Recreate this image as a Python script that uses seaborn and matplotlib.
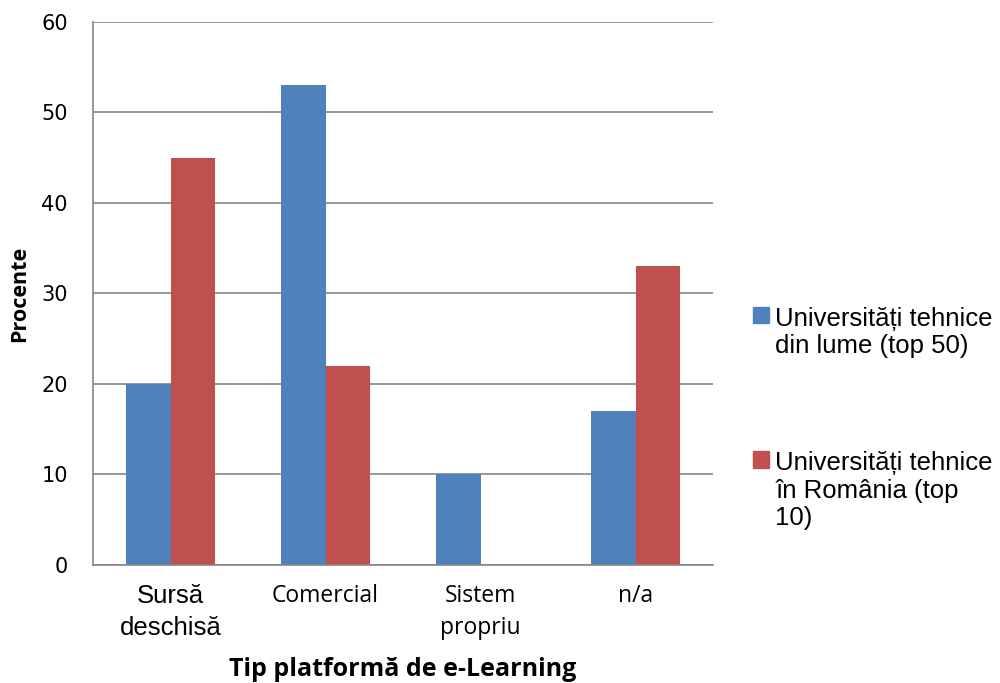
import pandas as pd
import matplotlib.pyplot as plt
import seaborn as sns

categories = ["Sursă\ndeschisă", "Comercial", "Sistem\npropriu", "n/a"]
series_names = ["Universități tehnice\ndin lume (top 50)",
                "Universități tehnice\nîn România (top\n10)"]
lume_values = [20, 53, 10, 17]
romania_values = [45, 22, 0, 33]
colors = ["#4F81BD", "#C0504D"]

df = pd.DataFrame({
    "categorie": categories * 2,
    "serie": [series_names[0]] * 4 + [series_names[1]] * 4,
    "procent": lume_values + romania_values,
})

sns.set_style("white")
plt.rcParams['font.family'] = ['DejaVu Sans']
plt.rcParams['text.color'] = 'black'
plt.rcParams['axes.labelcolor'] = 'black'
plt.rcParams['xtick.color'] = 'black'
plt.rcParams['ytick.color'] = 'black'

fig = plt.figure(figsize=(10, 6.83), dpi=100)
ax = fig.add_axes([0.093, 0.1728, 0.62, 0.7951])

sns.barplot(data=df, x="categorie", y="procent", hue="serie", palette=colors,
            width=0.57, saturation=1, linewidth=0, ax=ax, legend=False)

grid_c = "#868686"
ax.set_ylim(0, 60)
ax.set_yticks(range(0, 61, 10))
ax.yaxis.grid(True, color=grid_c, linewidth=1.2)
ax.set_axisbelow(True)
for side in ["top", "right"]:
    ax.spines[side].set_visible(False)
for side in ["left", "bottom"]:
    ax.spines[side].set_color(grid_c)
    ax.spines[side].set_linewidth(1.2)
ax.tick_params(axis="y", length=6, width=1.2, color=grid_c, labelcolor="black",
               labelsize=15, pad=12)
ax.tick_params(axis="x", length=0, pad=14)

ax.set_xticks(range(len(categories)))
labels = ax.set_xticklabels(categories)
labels[0].set_fontfamily("Liberation Sans")
labels[0].set_fontsize(18.5)
for lab in labels[1:]:
    lab.set_fontfamily("Open Sans")
    lab.set_fontsize(16.5)
for lab in labels:
    lab.set_linespacing(1.4)

ax.set_xlabel("Tip platformă de e-Learning", fontfamily="Open Sans",
              fontweight="bold", fontsize=18, labelpad=12)
ax.set_ylabel("Procente", fontfamily="Open Sans", fontweight="bold",
              fontsize=15.5, labelpad=8)

handles = [plt.Rectangle((0, 0), 1, 1, color=c) for c in colors]
leg = fig.legend(handles, series_names, loc="upper left",
                 bbox_to_anchor=(0.73, 0.585), frameon=False,
                 prop={"family": "Liberation Sans", "size": 18.5},
                 handlelength=0.62, handleheight=0.62, handletextpad=0.25,
                 labelspacing=3.6)
# handles sit next to the first line of each label, like in Excel
for col in leg._legend_handle_box.get_children():
    for row in col.get_children():
        row.align = "top"

fig.savefig("out.png", dpi=100)
